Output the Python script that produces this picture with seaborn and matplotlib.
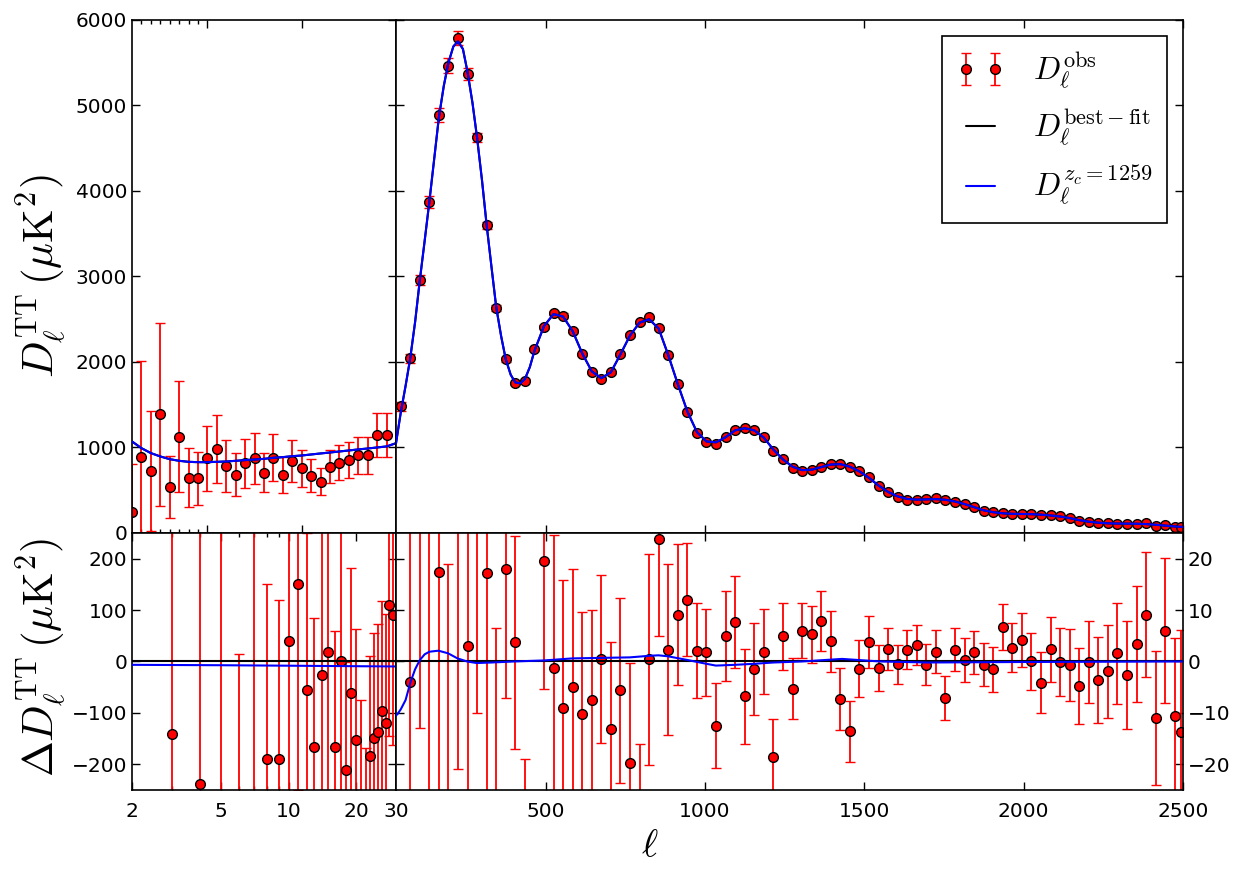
import numpy as np
import matplotlib
matplotlib.use('Agg')
import matplotlib.pyplot as plt
import seaborn as sns
from matplotlib.ticker import FixedLocator, NullFormatter, FixedFormatter

# ---- low-ell (2-29) data ----
ell_low = np.arange(2, 30)
dl_low = [242, 894, 726, 1390, 535, 1125, 648, 640, 871, 984, 785, 680, 816, 871,
          707, 879, 680, 840, 758, 672, 601, 777, 824, 848, 906, 906, 1148, 1148]
err_low = [560, 1120, 700, 1070, 360, 650, 340, 310, 385, 400, 306, 250, 287, 293,
           226, 275, 210, 244, 217, 188, 162, 195, 205, 211, 215, 211, 254, 254]
res_low = [-830, -142, -239, 495, -345, 281, -190, -190, 39, 150, -56, -166, -27, 18,
           -166, 1, -211, -62, -153, -262, -330, -184, -149, -138, -97, -119, 109, 91]

# best-fit curve at low ell
model_low_ell = np.arange(2, 31)
model_low = [1070, 992, 934, 895, 863, 844, 832, 828, 828, 832, 836, 844, 852, 859, 867,
             879, 887, 898, 906, 918, 930, 941, 953, 965, 977, 988, 1000, 1012, 1050]
zc_res_low_ell = [2, 5, 10, 20, 30]
zc_res_low = [-6.5, -7.3, -8.2, -9.2, -9.7]

# ---- high-ell binned data ----
ell_high = np.append(np.arange(44.5, 2475, 30), 2494.0)
dl_high = [1480, 2043, 2959, 3871, 4885, 5466, 5786, 5365, 4628, 3598,
           2628, 2030, 1750, 1780, 2150, 2410, 2570, 2542, 2360, 2090,
           1880, 1800, 1880, 2090, 2316, 2464, 2522, 2394, 2082, 1739,
           1411, 1166, 1060, 1041, 1127, 1205, 1232, 1205, 1119, 963,
           862, 764, 729, 741, 776, 803, 807, 768, 725, 651,
           550, 476, 425, 390, 390, 392, 405, 386, 366, 335,
           300, 257, 242, 230, 222, 222, 222, 214, 207, 195,
           175, 144, 129, 117, 113, 109, 109, 109, 117, 86,
           97, 74, 66]
err_high = [48, 52, 63, 73, 83, 85, 84, 73, 50, 44,
            33, 25, 20.8, 20, 18, 25, 25.9, 25, 22.8, 19.9,
            17.6, 16.4, 16.8, 18, 19.6, 17, 20.5, 19, 16.6, 13.7,
            11, 9.3, 8.4, 8.3, 8.7, 9.0, 9.2, 9.0, 8.3, 7.4,
            6.5, 5.9, 5.4, 5.5, 5.8, 6.0, 6.1, 6.0, 5.5, 5.1,
            4.5, 4.1, 3.8, 3.8, 3.8, 4.0, 4.2, 4.2, 4.2, 4.2,
            4.2, 4.2, 4.4, 4.5, 4.7, 5.2, 5.6, 6.0, 6.3, 6.6,
            7.0, 7.4, 7.9, 8.4, 9.0, 9.8, 10.5, 11.3, 12.2, 13.1,
            14.1, 15.2, 20]
res_high = [-80, -3.9, 50, 30, 17.4, -66, 63, 3.0, 40, 17.2,
            -26.5, 17.9, 3.7, -39, 48, 19.6, -1.2, -9.1, -4.9, -10.3,
            -7.5, 0.5, -13.1, -5.6, -19.8, -33, 0.45, 23.9, 2.3, 9.1,
            12.0, 2.1, 1.75, -12.5, 5.0, 7.7, -6.8, -1.5, 1.9, -18.6,
            4.9, -5.3, 6.0, 5.3, 7.9, 3.9, -7.3, -13.6, -1.4, 3.8,
            -1.2, 2.5, -0.5, 2.3, 3.2, -0.6, 1.9, -7.1, 2.3, 0.3,
            1.8, -0.6, -1.5, 6.7, 2.7, 4.2, 0.0, -4.1, 2.4, -0.1,
            -0.7, -4.7, -0.1, -3.6, -1.9, 1.6, -2.7, 3.4, 9.1, -11.0,
            6.0, -10.7, -13.8]

# best-fit curve at high ell
model_high_ell = [30, 44.5, 60, 74.5, 90, 104.5, 120, 134.5, 150, 164.5, 180, 194.5,
                  210, 224.5, 240, 254.5, 270, 284.5, 300, 314.5, 330, 344.5, 360,
                  374.5, 390, 404.5, 420, 434.5, 450, 464.5, 494.5, 524.5, 554.5,
                  584.5, 614.5, 644.5, 674.5, 704.5, 734.5, 764.5, 794.5, 824.5,
                  854.5, 884.5, 914.5, 944.5, 974.5, 1004.5, 1034.5, 1064.5, 1094.5,
                  1124.5, 1154.5, 1184.5, 1214.5, 1244.5, 1274.5, 1304.5, 1334.5,
                  1364.5, 1394.5, 1424.5, 1454.5, 1484.5, 1514.5, 1544.5, 1574.5,
                  1604.5, 1634.5, 1664.5, 1694.5, 1724.5, 1754.5, 1784.5, 1814.5,
                  1844.5, 1874.5, 1904.5, 1934.5, 1964.5, 1994.5, 2024.5, 2054.5,
                  2084.5, 2114.5, 2144.5, 2174.5, 2204.5, 2234.5, 2264.5, 2294.5,
                  2324.5, 2354.5, 2384.5, 2414.5, 2444.5, 2474.5, 2500]
model_high = [1050, 1400, 1720, 2040, 2470, 2950, 3420, 3870, 4380, 4860, 5230, 5500,
              5690, 5750, 5660, 5390, 5030, 4620, 4120, 3600, 3100, 2640, 2300,
              2030, 1850, 1760, 1750, 1800, 1940, 2130, 2420, 2560, 2530,
              2360, 2100, 1890, 1810, 1880, 2090, 2310, 2460, 2500,
              2390, 2080, 1740, 1420, 1180, 1070, 1060, 1120, 1200,
              1225, 1200, 1115, 975, 860, 775, 735, 740,
              770, 800, 805, 775, 720, 645, 555, 480,
              428, 398, 390, 393, 396, 388, 368, 338,
              302, 265, 243, 230, 224, 222, 220, 214,
              205, 192, 174, 150, 132, 120, 113, 110,
              109, 108, 104, 96, 86, 76, 70]
zc_res_high_ell = [30, 35, 45, 60, 76, 90, 105, 120, 135, 163, 193, 223, 253, 283, 330,
                   400, 494, 584, 674, 764, 824, 854, 884, 944, 1004, 1034, 1094, 1154,
                   1214, 1304, 1430, 1550, 1700, 2000, 2500]
zc_res_high = [-10.5, -10.2, -9.3, -7.5, -3.9, -1.5, 0.3, 1.4, 1.9, 2.1, 1.6, 0.6, 0.0,
               -0.3, -0.2, 0.0, 0.2, 0.6, 0.7, 0.8, 1.1, 1.2, 1.0, 0.3, -0.45, -0.8,
               -0.65, -0.45, -0.2, 0.0, 0.5, 0.0, -0.2, -0.1, 0.0]

sns.set_theme(style='ticks')
plt.rcParams.update({
    'font.family': ['DejaVu Sans'],
    'mathtext.fontset': 'cm',
    'axes.edgecolor': 'black',
    'axes.linewidth': 1.2,
    'xtick.direction': 'in',
    'ytick.direction': 'in',
    'xtick.top': True,
    'ytick.right': True,
    'xtick.major.size': 6,
    'ytick.major.size': 6,
    'xtick.minor.size': 3,
    'ytick.minor.size': 3,
    'xtick.major.width': 1.0,
    'ytick.major.width': 1.0,
    'xtick.color': 'black',
    'ytick.color': 'black',
    'xtick.labelsize': 14.5,
    'ytick.labelsize': 14.5,
    'text.color': 'black',
})

fig = plt.figure(figsize=(12.43, 8.71), dpi=100)
ax_tl = fig.add_axes([0.1062, 0.3881, 0.2124, 0.589])
ax_tr = fig.add_axes([0.3186, 0.3881, 0.6331, 0.589])
ax_bl = fig.add_axes([0.1062, 0.093, 0.2124, 0.2951])
ax_br = fig.add_axes([0.3186, 0.093, 0.6331, 0.2951])

eb_kw = dict(fmt='o', color='red', mfc='red', mec='black', mew=1.0, ms=7,
             ecolor='red', elinewidth=1.3, capsize=3.5, capthick=1.3, zorder=2)


def draw_lines(ax, x_model, y_model, x_blue, y_blue):
    sns.lineplot(x=x_model, y=y_model, ax=ax, color='black', lw=1.5, zorder=3)
    sns.lineplot(x=x_blue, y=y_blue, ax=ax, color='blue', lw=1.5, zorder=4)


# top panels
ax_tl.errorbar(ell_low, dl_low, yerr=err_low, **eb_kw)
draw_lines(ax_tl, model_low_ell, model_low, model_low_ell, model_low)
obs = ax_tr.errorbar(ell_high, dl_high, yerr=err_high, **eb_kw)
draw_lines(ax_tr, model_high_ell, model_high, model_high_ell, model_high)
line_bf = ax_tr.lines[-2]
line_zc = ax_tr.lines[-1]

# residual panels
ax_bl.set_xscale('log')
ax_bl.errorbar(ell_low, res_low, yerr=err_low, **eb_kw)
draw_lines(ax_bl, [2, 30], [0, 0], zc_res_low_ell, zc_res_low)
ax_br.errorbar(ell_high, res_high, yerr=err_high, **eb_kw)
draw_lines(ax_br, [30, 2500], [0, 0], zc_res_high_ell, zc_res_high)

for ax in (ax_tl, ax_tr, ax_bl, ax_br):
    ax.set_xlabel('')
    ax.set_ylabel('')
    if ax.get_legend() is not None:
        ax.get_legend().remove()

ax_tl.set_xlim(2, 30)
ax_tl.set_ylim(0, 6000)
ax_tl.xaxis.set_major_locator(FixedLocator([10, 20, 30]))
ax_tl.xaxis.set_minor_locator(FixedLocator([3, 4, 5, 6, 7, 8, 9]))
ax_tl.xaxis.set_major_formatter(NullFormatter())
ax_tl.set_yticks(np.arange(0, 6001, 1000))

ax_tr.set_xlim(30, 2500)
ax_tr.set_ylim(0, 6000)
ax_tr.set_xticks([500, 1000, 1500, 2000, 2500])
ax_tr.set_yticks(np.arange(0, 6001, 1000))
ax_tr.tick_params(labelbottom=False, labelleft=False)

ax_bl.set_xlim(2, 30)
ax_bl.set_ylim(-250, 250)
ax_bl.xaxis.set_major_locator(FixedLocator([2, 5, 10, 20, 30]))
ax_bl.xaxis.set_major_formatter(FixedFormatter(['2', '5', '10', '20', '30']))
ax_bl.xaxis.set_minor_locator(FixedLocator([3, 4, 6, 7, 8, 9]))
ax_bl.xaxis.set_minor_formatter(NullFormatter())
ax_bl.set_yticks([-200, -100, 0, 100, 200])

ax_br.set_xlim(30, 2500)
ax_br.set_ylim(-25, 25)
ax_br.set_xticks([500, 1000, 1500, 2000, 2500])
ax_br.set_yticks([-20, -10, 0, 10, 20])

for ax in (ax_tl, ax_tr, ax_bl, ax_br):
    ax.tick_params(which='both', direction='in', top=True, right=True)
    ax.tick_params(axis='x', pad=9)
    for s in ax.spines.values():
        s.set_visible(True)
        s.set_color('black')
        s.set_linewidth(1.2)
ax_br.tick_params(axis='y', left=True, right=True, labelright=True, labelleft=False)

leg = ax_tr.legend([obs, line_bf, line_zc],
                   [r'$D_\ell^{\rm obs}$', r'$D_\ell^{\rm best-fit}$', r'$D_\ell^{z_c=1259}$'],
                   loc='upper right', bbox_to_anchor=(0.9797, 0.9688), borderaxespad=0,
                   fontsize=23, numpoints=2, handlelength=1.5, handletextpad=0.9,
                   labelspacing=0.5, fancybox=False, framealpha=1, borderpad=0.45)
leg.get_frame().set_edgecolor('black')
leg.get_frame().set_linewidth(1.2)

fig.text(0.034, 0.683, r'$D_\ell^{\rm TT}\,(\mu{\rm K}^2)$', rotation=90,
         ha='center', va='center', fontsize=31)
fig.text(0.034, 0.245, r'$\Delta D_\ell^{\rm TT}\,(\mu{\rm K}^2)$', rotation=90,
         ha='center', va='center', fontsize=31)
fig.text(0.523, 0.03, r'$\ell$', ha='center', va='center', fontsize=28)

fig.savefig('out.png', dpi=100)
